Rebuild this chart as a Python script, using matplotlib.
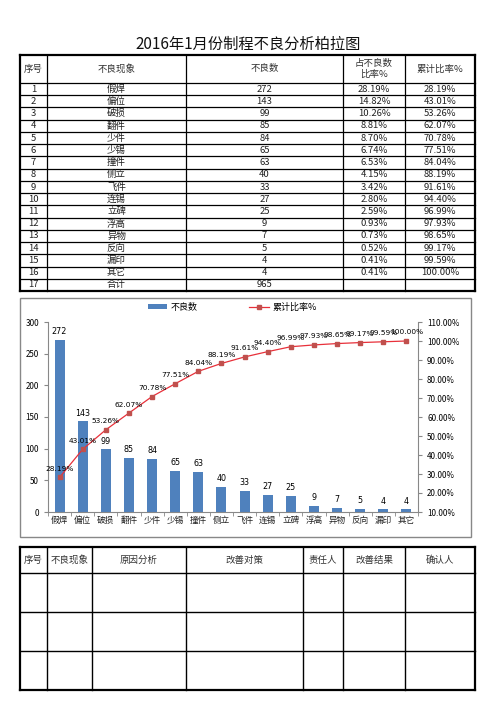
import numpy as np
import matplotlib
matplotlib.use('Agg')
import matplotlib.pyplot as plt
from matplotlib.lines import Line2D
from matplotlib.patches import Patch, Rectangle
from matplotlib.ticker import FixedLocator

plt.rcParams['font.family'] = ['Noto Sans CJK SC', 'DejaVu Sans']

" DATA "

title = '2016年1月份制程不良分析柏拉图'
names = ['假焊', '偏位', '破损', '翻件', '少件', '少锡', '撞件', '侧立',
         '飞件', '连锡', '立碑', '浮高', '异物', '反向', '漏印', '其它']
counts = [272, 143, 99, 85, 84, 65, 63, 40, 33, 27, 25, 9, 7, 5, 4, 4]
share = [28.19, 14.82, 10.26, 8.81, 8.70, 6.74, 6.53, 4.15,
         3.42, 2.80, 2.59, 0.93, 0.73, 0.52, 0.41, 0.41]
cum = [28.19, 43.01, 53.26, 62.07, 70.78, 77.51, 84.04, 88.19,
       91.61, 94.40, 96.99, 97.93, 98.65, 99.17, 99.59, 100.00]
total = 965

top_header = ['序号', '不良现象', '不良数', '占不良数\n比率%', '累计比率%']
bottom_header = ['序号', '不良现象', '原因分析', '改善对策', '责任人', '改善结果', '确认人']

W, H = 496, 702
fig = plt.figure(figsize=(W / 100, H / 100), dpi=100)

# page layer in pixel coords
pg = fig.add_axes([0, 0, 1, 1])
pg.set_xlim(0, W)
pg.set_ylim(H, 0)
pg.axis('off')

fs = 6.8
pg.text(248, 44, title, ha='center', va='center', fontsize=11, color='#111111')

# ---- top table ----
cols = [20, 47, 186, 343, 405, 475]
t_top, h_bot = 55, 83
row_h = (291 - h_bot) / 17
rows = [h_bot + i * row_h for i in range(18)]
for x in cols:
    lw = 1.6 if x in (20, 475) else 0.9
    pg.plot([x, x], [t_top, rows[-1]], color='black', lw=lw)
pg.plot([20, 475], [t_top, t_top], color='black', lw=1.6)
for y in [h_bot] + rows[1:]:
    pg.plot([20, 475], [y, y], color='black', lw=1.6 if y == rows[-1] else 0.9)

cx = [(cols[i] + cols[i + 1]) / 2 for i in range(5)]
for i, s in enumerate(top_header):
    pg.text(cx[i], (t_top + h_bot) / 2, s, ha='center', va='center',
            fontsize=fs, color='#333333', linespacing=1.3)
for i in range(16):
    yc = (rows[i] + rows[i + 1]) / 2
    vals = [str(i + 1), names[i], str(counts[i]),
            f'{share[i]:.2f}%', f'{cum[i]:.2f}%']
    for j, v in enumerate(vals):
        pg.text(cx[j], yc, v, ha='center', va='center', fontsize=fs, color='#222222')
yc = (rows[16] + rows[17]) / 2
for j, v in enumerate(['17', '合计', str(total)]):
    pg.text(cx[j], yc, v, ha='center', va='center', fontsize=fs, color='#222222')

# ---- chart frame ----
pg.add_patch(Rectangle((20, 298), 451, 239, fill=False, edgecolor='#888888', lw=1.0))

# ---- bottom table ----
bcols = [20, 47, 92, 186, 303, 343, 405, 475]
brows = [547, 573, 612, 651, 690]
for x in bcols:
    lw = 1.6 if x in (20, 475) else 1.0
    pg.plot([x, x], [brows[0], brows[-1]], color='black', lw=lw)
for y in brows:
    lw = 1.6 if y in (547, 690) else 1.0
    pg.plot([20, 475], [y, y], color='black', lw=lw)
for i, s in enumerate(bottom_header):
    pg.text((bcols[i] + bcols[i + 1]) / 2, (brows[0] + brows[1]) / 2, s,
            ha='center', va='center', fontsize=fs, color='#333333')

# ---- pareto chart ----
ax = fig.add_axes([48 / W, 1 - 512 / H, 370 / W, 190 / H])
x = np.arange(len(names))
ax.bar(x, counts, width=0.43, color='#4F81BD', zorder=2)
ax.set_xlim(-0.5, len(names) - 0.5)
ax.set_ylim(0, 300)
ax.set_yticks([0, 50, 100, 150, 200, 250, 300])
ax.set_xticks(x)
ax.set_xticklabels(names, fontsize=6.2, color='#222222')
ax.tick_params(axis='y', labelsize=5.8, length=3, color='#888888')
ax.xaxis.set_minor_locator(FixedLocator(np.arange(-0.5, len(names), 1)))
ax.tick_params(axis='x', which='major', length=0, pad=3)
ax.tick_params(axis='x', which='minor', length=3, color='#888888')
for s in ['top', 'right']:
    ax.spines[s].set_visible(False)
for s in ['left', 'bottom']:
    ax.spines[s].set_color('#888888')
for xi, c in zip(x, counts):
    ax.text(xi, c + 6, str(c), ha='center', va='bottom', fontsize=5.8,
            family='DejaVu Sans')

ax2 = ax.twinx()
ax2.plot(x, np.array(cum) / 100, color='#E8303A', lw=0.9, marker='s',
         markersize=3.2, markerfacecolor='#C0504D', markeredgecolor='#C0504D', zorder=3)
ax2.set_ylim(0.1, 1.1)
yt = np.round(np.arange(0.1, 1.11, 0.1), 2)
ax2.set_yticks(yt)
ax2.set_yticklabels([f'{v * 100:.2f}%' for v in yt], fontsize=5.8)
ax2.tick_params(axis='y', length=3, color='#888888')
for s in ['top', 'left', 'bottom']:
    ax2.spines[s].set_visible(False)
ax2.spines['right'].set_color('#888888')
for xi, c in zip(x, cum):
    ax2.annotate(f'{c:.2f}%', (xi, c / 100), xytext=(0, 4),
                 textcoords='offset points', ha='center', va='bottom',
                 fontsize=5.3, family='DejaVu Sans')

handles = [Patch(facecolor='#4F81BD', label='不良数'),
           Line2D([0], [0], color='#E8303A', lw=0.9, marker='s', markersize=3.2,
                  markerfacecolor='#C0504D', markeredgecolor='#C0504D', label='累计比率%')]
fig.legend(handles=handles, loc='center', bbox_to_anchor=(232 / W, 1 - 307 / H),
           ncol=2, frameon=False, fontsize=6.5, columnspacing=5.8,
           handlelength=2.2, handleheight=0.5, handletextpad=0.3)

fig.savefig('out.png', dpi=100)
